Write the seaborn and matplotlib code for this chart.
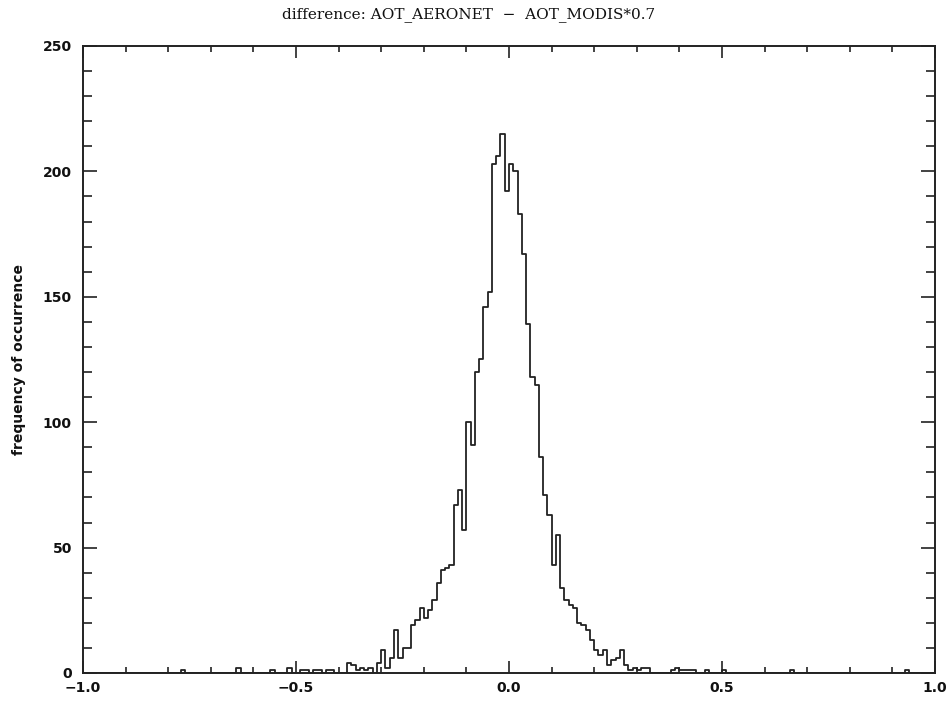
import numpy as np
import pandas as pd
import matplotlib
matplotlib.use("Agg")
import matplotlib.pyplot as plt
from matplotlib.ticker import MultipleLocator
import seaborn as sns

# Histogram of differences, bin width 0.01 (left bin edges and counts)
core_left_edges = [round(-0.42 + 0.01 * i, 2) for i in range(75)]  # -0.42 .. 0.32
core_counts = [1, 0, 0, 0, 4, 3, 1, 2, 1, 2,
               0, 4, 9, 2, 6, 17, 6, 10, 10, 19,
               21, 26, 22, 25, 29, 36, 41, 42, 43, 67,
               73, 57, 100, 91, 120, 125, 146, 152, 203, 206,
               215, 192, 203, 200, 183, 167, 139, 118, 115, 86,
               71, 63, 43, 55, 34, 29, 27, 26, 20, 19,
               17, 13, 9, 7, 9, 3, 5, 6, 9, 3,
               1, 2, 1, 2, 2]
tail_left_edges = [-0.77, -0.64, -0.56, -0.52, -0.49, -0.48, -0.46, -0.45, -0.43,
                   0.38, 0.39, 0.40, 0.41, 0.42, 0.43, 0.46, 0.50, 0.66, 0.93]
tail_counts = [1, 2, 1, 2, 1, 1, 1, 1, 1,
               1, 2, 1, 1, 1, 1, 1, 1, 1, 1]

title_text = "difference: AOT_AERONET  \u2212  AOT_MODIS*0.7"
y_label = "frequency of occurrence"

edges = np.array(core_left_edges + tail_left_edges, dtype=float)
cnts = np.array(core_counts + tail_counts, dtype=float)
df = pd.DataFrame({"diff": edges + 0.005, "count": cnts})

sns.set_style("ticks")
plt.rcParams["font.family"] = ["DejaVu Sans"]

fig = plt.figure(figsize=(9.48, 7.02), dpi=100)
ax = fig.add_axes([83 / 948, 1 - 673 / 702, (935 - 83) / 948, (673 - 46) / 702])

sns.histplot(data=df, x="diff", weights="count", binwidth=0.01, binrange=(-1, 1),
             element="step", fill=False, color="#222222", linewidth=1.3, ax=ax)

ax.set_xlim(-1.0, 1.0)
ax.set_ylim(0, 250)
ax.xaxis.set_major_locator(MultipleLocator(0.5))
ax.xaxis.set_minor_locator(MultipleLocator(0.1))
ax.yaxis.set_major_locator(MultipleLocator(50))
ax.yaxis.set_minor_locator(MultipleLocator(10))
ax.set_xticks([-1.0, -0.5, 0.0, 0.5, 1.0])
ax.set_xticklabels(["\u22121.0", "\u22120.5", "0.0", "0.5", "1.0"])
ax.tick_params(axis="both", which="both", direction="in", top=True, right=True,
               color="#222222", width=1.2, labelsize=10, labelcolor="#111111")
ax.tick_params(axis="x", which="major", length=8.5, pad=6)
ax.tick_params(axis="x", which="minor", length=4.5)
ax.tick_params(axis="y", which="major", length=10, pad=8)
ax.tick_params(axis="y", which="minor", length=6.5)
for lab in ax.get_xticklabels() + ax.get_yticklabels():
    lab.set_fontweight("bold")
for sp in ax.spines.values():
    sp.set_visible(True)
    sp.set_linewidth(1.4)
    sp.set_color("#222222")

ax.set_xlabel("")
ax.set_ylabel(y_label, fontsize=10, fontweight="bold", color="#111111", labelpad=12)
fig.text(469 / 948, 1 - 15 / 702, title_text, ha="center", va="center",
         fontsize=11, family="DejaVu Serif", color="#111111")

fig.savefig("out.png", dpi=100)
